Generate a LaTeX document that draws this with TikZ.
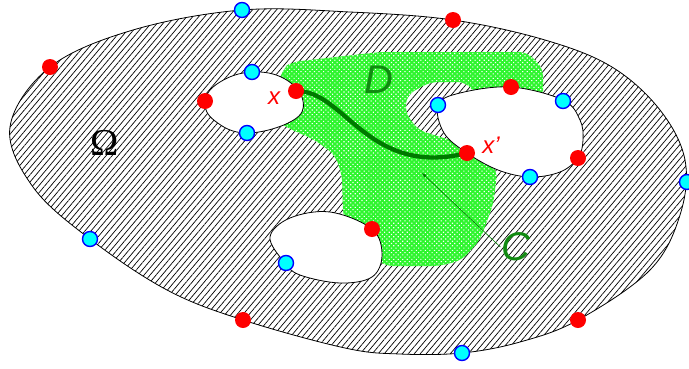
\documentclass[tikz,border=0pt]{standalone}
\usepackage{fontspec}
\setsansfont{Liberation Sans}
\newfontfamily\omegafont{Liberation Serif}
\usepackage{tikz}
\tikzset{>=latex}
\usetikzlibrary{patterns.meta}
\definecolor{pointred}{HTML}{FF0000}
\definecolor{pointcyan}{HTML}{00FFFF}
\definecolor{pointblue}{HTML}{0000FF}
\definecolor{meshgreen}{HTML}{2EF52E}
\definecolor{curvegreen}{HTML}{007A00}
\definecolor{labelgreen}{HTML}{118A11}
\tikzset{
    redpoint/.style={circle, fill=pointred, inner sep=0pt, minimum size=16pt},
    bluepoint/.style={circle, fill=pointcyan, draw=pointblue, line width=1.4pt, inner sep=0pt, minimum size=15pt},
    hole/.style={fill=white, draw=black, line width=0.8pt},
    biglabel/.style={font=\sffamily\itshape\fontsize{40}{40}\selectfont, text=labelgreen, inner sep=1pt},
    smalllabel/.style={font=\sffamily\itshape\fontsize{24}{24}\selectfont, text=pointred, inner sep=1pt}
}

\begin{document}
\begin{tikzpicture}[x=1pt, y=-1pt]
    \useasboundingbox (0,0) rectangle (689,368);
    % domain Omega
    \path[pattern={Lines[angle=50, distance=4.6pt, line width=0.7pt]}] plot[smooth cycle, tension=0.6] coordinates {(242,10) (350,12) (453,20) (545,40) (612,67) (660,110) (685,160) (680,215) (650,270) (578,320) (520,342) (462,353) (400,354) (345,348) (243,320) (167,290) (90,239) (33,187) (10,127) (50,67) (133,30)};
    % region D
    \path[fill=meshgreen, postaction={pattern={Dots[distance=3.2pt, radius=0.8pt, angle=45]}, pattern color=white}, rounded corners=8pt] (275,100) -- (283,68) -- (292,62) -- (380,52) -- (527,52) -- (543,68) -- (543,100) -- (480,100) -- (466,82) -- (430,82) -- (407,95) -- (405,112) -- (418,130) -- (450,140) -- (460,142) -- (490,158) -- (497,172) -- (496,182) -- (493,205) -- (480,240) -- (462,260) -- (440,266) -- (385,266) -- (365,250) -- (345,225) -- (343,212) -- (342,175) -- (335,155) -- (315,140) -- (288,128) -- (275,120) -- cycle;
    % holes
    \draw[hole] plot[smooth cycle, tension=0.7] coordinates {(205,101) (220,82) (252,72) (285,79) (303,101) (292,121) (247,133) (215,121)};
    \draw[hole] plot[smooth cycle, tension=0.6] coordinates {(438,105) (460,93) (511,87) (563,100) (580,120) (583,140) (578,158) (560,172) (530,177) (498,170) (467,153) (444,133)};
    \draw[hole] plot[smooth cycle, tension=0.6] coordinates {(270,237) (290,218) (330,212) (372,229) (382,255) (372,277) (340,283) (300,275) (284,262)};
    \draw[line width=0.8pt] plot[smooth cycle, tension=0.6] coordinates {(242,10) (350,12) (453,20) (545,40) (612,67) (660,110) (685,160) (680,215) (650,270) (578,320) (520,342) (462,353) (400,354) (345,348) (243,320) (167,290) (90,239) (33,187) (10,127) (50,67) (133,30)};
    % curve C
    \coordinate (x) at (296,91);
    \coordinate (xp) at (467,153);
    \coordinate (ctip) at (422,173);
    \draw[curvegreen, line width=4.3pt] (x) .. controls (345,90) and (368,178) .. (xp);
    % points on the boundary
    \foreach \p [count=\i] in {{50,67},{453,20},{243,320},{578,320},{205,101},{511,87},{578,158},{372,229}}
        \node[redpoint] (red\i) at (\p) {};
    \node[redpoint] (xdot) at (x) {};
    \node[redpoint] (xpdot) at (xp) {};
    \foreach \p [count=\i] in {{242,10},{687,182},{462,353},{90,239},{252,72},{247,133},{438,105},{563,101},{530,177},{286,263}}
        \node[bluepoint] (blue\i) at (\p) {};
    % labels
    \node[biglabel] (labD) at (379,80) {D};
    \node[biglabel] (labC) at (516,247) {C};
    \node[smalllabel] (labx) at (274,98) {x};
    \node[smalllabel] (labxp) at (491,145) {x’};
    \node[font=\omegafont\fontsize{38}{38}\selectfont, inner sep=1pt] (labOmega) at (105,143) {Ω};
    \draw[->, curvegreen, line width=0.6pt] (labC.west) -- (ctip);
\end{tikzpicture}
\end{document}
